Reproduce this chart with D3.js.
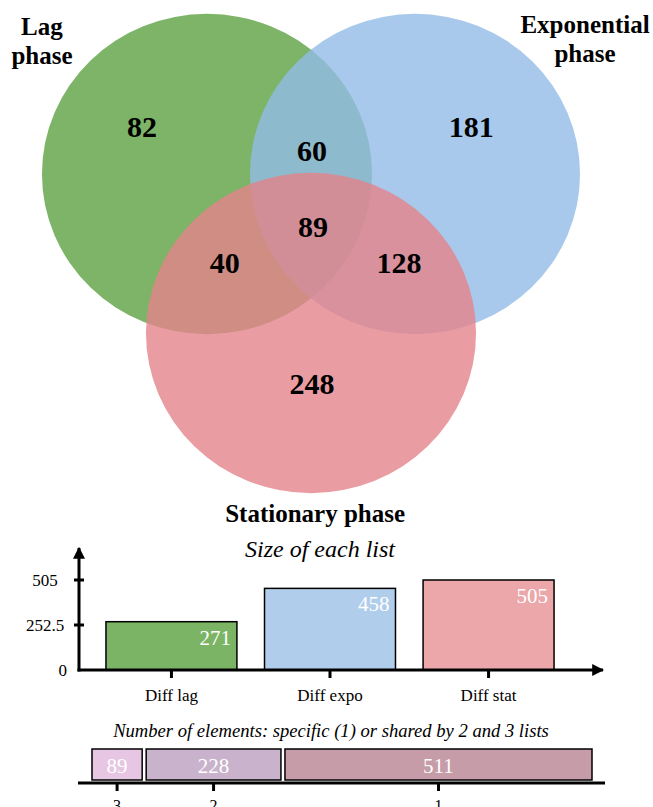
<!DOCTYPE html>
<html>
<head>
<meta charset="utf-8">
<script src="https://cdn.jsdelivr.net/npm/d3@7"></script>
<style>
	body { margin: 0; background: #fff; }
	svg text { font-family: "Liberation Serif", "Times New Roman", serif; }
</style>
</head>
<body>
<div id="chart"></div>
<script>
// venn sets and region counts (membership: lag, expo, stat)
const setNames = [["Lag", "phase"], ["Exponential", "phase"], ["Stationary phase"]];
const regionKeys = ["100", "010", "001", "110", "101", "011", "111"];
const regionCounts = [82, 181, 248, 60, 40, 128, 89];

// size of each list
const listNames = ["Diff lag", "Diff expo", "Diff stat"];
const listSizes = [271, 458, 505];
const sizeTicks = [0, 252.5, 505];

// elements specific or shared
const shareLabels = ["3", "2", "1"];
const shareCounts = [89, 228, 511];

// layout (abstract venn units) and styles
const vennCenters = [[-1, 0], [1, 0], [0, 1.529]];
const vennRadius = [1.587, 1.54];
const vennColors = ["#5da142", "#92bce6", "#e48389"];
const regionPos = {
	"100": [-1.625, -0.356], "010": [1.54, -0.356], "001": [0.01, 2.115],
	"110": [0.01, -0.125], "101": [-0.83, 0.952], "011": [0.845, 0.952], "111": [0.02, 0.606]
};
const setLabelPos = [[-2.587, -1.337], [2.635, -1.356], [0.04, 3.346]];
const listColors = ["#7bb465", "#b0cdeb", "#eca7aa"];
const shareColors = ["#e6c6e3", "#c9b2cb", "#c59ca8"];

const width = 653, height = 807;
const svg = d3.select("#chart").append("svg")
	.attr("width", width)
	.attr("height", height);

svg.append("defs").append("marker")
	.attr("id", "arrow")
	.attr("viewBox", "0 0 10 10")
	.attr("refX", 9).attr("refY", 5)
	.attr("markerWidth", 4).attr("markerHeight", 4)
	.attr("markerUnits", "strokeWidth")
	.attr("orient", "auto")
	.append("path")
	.attr("d", "M0,0 L10,5 L0,10 Z")
	.attr("fill", "#000");

// ---- venn ----
let vx = d3.scaleLinear().domain([-1, 1]).range([207, 415]);
let vy = d3.scaleLinear().domain([0, 1]).range([174, 278]);
let ux = vx(1) - vx(0), uy = vy(1) - vy(0);

const venn = svg.append("g").attr("class", "venn");

venn.selectAll("ellipse")
	.data(vennCenters)
	.enter().append("ellipse")
	.attr("cx", d => vx(d[0]))
	.attr("cy", d => vy(d[1]))
	.attr("rx", vennRadius[0] * ux)
	.attr("ry", vennRadius[1] * uy)
	.attr("fill", (d, i) => vennColors[i])
	.attr("fill-opacity", 0.8);

venn.selectAll("text.count")
	.data(regionKeys)
	.enter().append("text")
	.attr("class", "count")
	.attr("x", d => vx(regionPos[d][0]))
	.attr("y", d => vy(regionPos[d][1]))
	.attr("text-anchor", "middle")
	.style("font-size", "30px")
	.style("font-weight", "bold")
	.text((d, i) => regionCounts[i]);

venn.selectAll("text.setname")
	.data(setNames)
	.enter().append("text")
	.attr("class", "setname")
	.attr("text-anchor", "middle")
	.style("font-size", "25px")
	.style("font-weight", "bold")
	.each(function(d, i) {
		let t = d3.select(this);
		d.forEach((line, j) => {
			t.append("tspan")
				.attr("x", vx(setLabelPos[i][0]))
				.attr("y", vy(setLabelPos[i][1]) + j * 29)
				.text(line);
		});
	});

// ---- size of each list ----
let x = d3.scaleBand().domain(listNames).range([92, 568]).paddingInner(0.174).paddingOuter(0.088);
let y = d3.scaleLinear().domain([0, 505]).range([670, 580]);

const bars = svg.append("g").attr("class", "bars");

bars.append("text")
	.attr("x", 320)
	.attr("y", 557)
	.attr("text-anchor", "middle")
	.style("font-size", "24px")
	.style("font-style", "italic")
	.text("Size of each list");

bars.selectAll("rect")
	.data(listSizes)
	.enter().append("rect")
	.attr("x", (d, i) => x(listNames[i]))
	.attr("y", d => y(d))
	.attr("width", x.bandwidth())
	.attr("height", d => y(0) - y(d))
	.attr("fill", (d, i) => listColors[i])
	.attr("stroke", "#000")
	.attr("stroke-width", 1.5);

bars.selectAll("text.value")
	.data(listSizes)
	.enter().append("text")
	.attr("class", "value")
	.attr("x", (d, i) => x(listNames[i]) + x.bandwidth() - 6)
	.attr("y", d => y(d) + 23)
	.attr("text-anchor", "end")
	.attr("fill", "#fff")
	.style("font-size", "21px")
	.text(d => d);

let yAxis = d3.axisLeft(y).tickValues(sizeTicks).tickSize(0).tickPadding(0).tickFormat(d3.format(""));
let gy = bars.append("g")
	.attr("transform", "translate(79,0)")
	.call(yAxis);
gy.select(".domain").remove();
gy.selectAll(".tick line").remove();
gy.selectAll(".tick text")
	.attr("x", d => d === 0 ? -12 : -34)
	.attr("text-anchor", d => d === 0 ? "end" : "middle")
	.style("font-size", "17px")
	.style("font-family", "'Liberation Serif', serif")
	.attr("fill", "#000");

bars.selectAll("line.ytick")
	.data(sizeTicks.filter(d => d > 0))
	.enter().append("line")
	.attr("class", "ytick")
	.attr("x1", 74).attr("x2", 84)
	.attr("y1", d => y(d)).attr("y2", d => y(d))
	.attr("stroke", "#000").attr("stroke-width", 3);

bars.selectAll("line.xtick")
	.data(listNames)
	.enter().append("line")
	.attr("class", "xtick")
	.attr("x1", d => x(d) + x.bandwidth() / 2).attr("x2", d => x(d) + x.bandwidth() / 2)
	.attr("y1", y(0)).attr("y2", y(0) + 8)
	.attr("stroke", "#000").attr("stroke-width", 3);

bars.append("line")
	.attr("x1", 79).attr("x2", 79)
	.attr("y1", y(0) + 1.5).attr("y2", 548)
	.attr("stroke", "#000").attr("stroke-width", 3)
	.attr("marker-end", "url(#arrow)");

bars.append("line")
	.attr("x1", 77.5).attr("x2", 603)
	.attr("y1", y(0)).attr("y2", y(0))
	.attr("stroke", "#000").attr("stroke-width", 3)
	.attr("marker-end", "url(#arrow)");

bars.selectAll("text.cat")
	.data(listNames)
	.enter().append("text")
	.attr("class", "cat")
	.attr("x", d => x(d) + x.bandwidth() / 2)
	.attr("y", 701)
	.attr("text-anchor", "middle")
	.style("font-size", "17px")
	.text(d => d);

// ---- shared elements ----
let cum = d3.cumsum(shareCounts);
let sx = d3.scaleLinear().domain([0, d3.sum(shareCounts)]).range([90, 594]);
const share = svg.append("g").attr("class", "share");

share.append("text")
	.attr("x", 331)
	.attr("y", 737)
	.attr("text-anchor", "middle")
	.style("font-size", "18.6px")
	.style("font-style", "italic")
	.text("Number of elements: specific (1) or shared by 2 and 3 lists");

share.selectAll("rect")
	.data(shareCounts)
	.enter().append("rect")
	.attr("x", (d, i) => sx(cum[i] - d) + 2)
	.attr("y", 749)
	.attr("width", d => sx(d) - sx(0) - 4)
	.attr("height", 31)
	.attr("fill", (d, i) => shareColors[i])
	.attr("stroke", "#000")
	.attr("stroke-width", 1.5);

share.selectAll("text.value")
	.data(shareCounts)
	.enter().append("text")
	.attr("class", "value")
	.attr("x", (d, i) => sx(cum[i] - d / 2))
	.attr("y", 773)
	.attr("text-anchor", "middle")
	.attr("fill", "#fff")
	.style("font-size", "21px")
	.text(d => d);

share.append("line")
	.attr("x1", 78).attr("x2", 605)
	.attr("y1", 783).attr("y2", 783)
	.attr("stroke", "#000").attr("stroke-width", 3);

share.selectAll("line.tick")
	.data(shareCounts)
	.enter().append("line")
	.attr("class", "tick")
	.attr("x1", (d, i) => sx(cum[i] - d / 2)).attr("x2", (d, i) => sx(cum[i] - d / 2))
	.attr("y1", 783).attr("y2", 791)
	.attr("stroke", "#000").attr("stroke-width", 3);

share.selectAll("text.lab")
	.data(shareLabels)
	.enter().append("text")
	.attr("class", "lab")
	.attr("x", (d, i) => sx(cum[i] - shareCounts[i] / 2))
	.attr("y", 811)
	.attr("text-anchor", "middle")
	.style("font-size", "16px")
	.text(d => d);
</script>
</body>
</html>
